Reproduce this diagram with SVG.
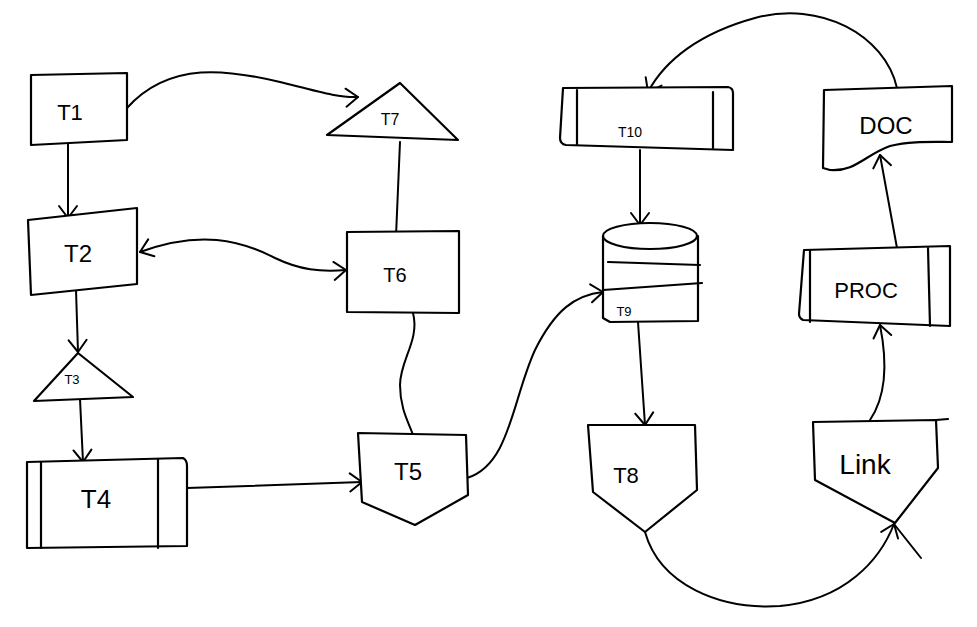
<svg xmlns="http://www.w3.org/2000/svg" width="977" height="627" viewBox="0 0 977 627">
<defs>
<marker id="arr" markerUnits="userSpaceOnUse" markerWidth="30" markerHeight="30" refX="15" refY="15" orient="auto" viewBox="0 0 30 30">
<path d="M3,6 L15,15 L3,24" fill="none" stroke="#000" stroke-width="2" stroke-linecap="round" stroke-linejoin="round"/>
</marker>
<marker id="arrs" markerUnits="userSpaceOnUse" markerWidth="30" markerHeight="30" refX="15" refY="15" orient="auto-start-reverse" viewBox="0 0 30 30">
<path d="M3,6 L15,15 L3,24" fill="none" stroke="#000" stroke-width="2" stroke-linecap="round" stroke-linejoin="round"/>
</marker>
</defs>
<style>
.s{fill:#fff;stroke:#000;stroke-width:2.2;stroke-linejoin:round;stroke-linecap:round}
.l{fill:none;stroke:#000;stroke-width:2.2;stroke-linecap:round;stroke-linejoin:round}
.c{fill:none;stroke:#000;stroke-width:2;stroke-linecap:round}
.t{font-family:"Liberation Sans",Arial,sans-serif;fill:#000;text-anchor:middle}
</style>
<rect width="977" height="627" fill="#fff"/>
<g id="connectors">
<path class="c" d="M127,108 C170,60 230,70 280,82 C320,92 340,98 358,97" marker-end="url(#arr)"/>
<path class="c" d="M68,142 L68,218" marker-end="url(#arr)"/>
<path class="c" d="M140,252 C200,230 240,240 275,258 C300,270 320,272 346,270" marker-start="url(#arrs)" marker-end="url(#arr)"/>
<path class="c" d="M76,290 L78,352" marker-end="url(#arr)"/>
<path class="c" d="M80,399 L83,462" marker-end="url(#arr)"/>
<path class="c" d="M187,488 L362,482" marker-end="url(#arr)"/>
<path class="c" d="M400,142 L396,236"/>
<path class="c" d="M413,313 C420,340 400,360 400,385 C400,410 410,425 413,435"/>
<path class="c" d="M467,478 C510,465 512,400 535,350 C555,310 575,295 603,292" marker-end="url(#arr)"/>
<path class="c" d="M640,150 L640,225" marker-end="url(#arr)"/>
<path class="c" d="M638,322 L645,425" marker-end="url(#arr)"/>
<path class="c" d="M645,532 C660,585 720,610 780,606 C845,600 880,560 894,524" marker-end="url(#arr)"/>
<path class="c" d="M894,524 L921,558"/>
<path class="c" d="M870,420 C885,398 888,365 880,325" marker-end="url(#arr)"/>
<path class="c" d="M897,248 L880,155" marker-end="url(#arr)"/>
<path class="c" d="M897,88 C885,35 820,0 755,18 C700,33 665,60 648,92" marker-end="url(#arr)"/>
</g>
<g id="T1">
<path class="s" d="M31,75 L127,73 L127,140 L31,145 Z"/>
<text class="t" x="70" y="120" font-size="22">T1</text>
</g>
<g id="T2">
<path class="s" d="M28,220 L137,208 L137,284 L31,295 Z"/>
<text class="t" x="78" y="262" font-size="24">T2</text>
</g>
<g id="T3">
<path class="s" d="M78,353 L133,397 L34,401 Z"/>
<text class="t" x="72" y="384" font-size="13">T3</text>
</g>
<g id="T4">
<path class="s" d="M27,462 L183,458 Q187,460 187,466 L187,546 L27,548 Z"/>
<path class="l" d="M41,462 L41,548 M158,459 L158,548"/>
<text class="t" x="96" y="508" font-size="26">T4</text>
</g>
<g id="T7">
<path class="s" d="M400,83 L458,140 L327,135 Z"/>
<text class="t" x="390" y="125" font-size="16">T7</text>
</g>
<g id="T6">
<path class="s" d="M347,232 L459,231 L459,313 L347,312 Z"/>
<text class="t" x="395" y="282" font-size="20">T6</text>
</g>
<g id="T5">
<path class="s" d="M358,433 L466,435 L468,495 L415,525 L362,502 Z"/>
<text class="t" x="408" y="480" font-size="24">T5</text>
</g>
<g id="T10">
<path class="s" d="M563,88 L728,87 Q733,88 733,93 L733,150 L566,145 Q560,144 560,138 Z"/>
<path class="l" d="M577,90 L577,145 M713,92 L713,148"/>
<text class="t" x="630" y="137" font-size="14">T10</text>
</g>
<g id="T9">
<path class="s" d="M603,236 L603,318 L610,322 L698,321 L698,236 Z"/>
<ellipse class="s" cx="650" cy="236" rx="47" ry="13"/>
<path class="l" d="M608,262 L700,265 M603,290 L702,283"/>
<text class="t" x="624" y="316" font-size="13">T9</text>
</g>
<g id="T8">
<path class="s" d="M588,425 L695,425 L697,490 L645,532 L593,492 Z"/>
<text class="t" x="626" y="483" font-size="22">T8</text>
</g>
<g id="DOC">
<path class="s" d="M824,90 L952,86 L952,142 C930,142 910,141 890,146 C865,155 855,172 830,170 L823,168 Z"/>
<text class="t" x="886" y="134" font-size="24">DOC</text>
</g>
<g id="PROC">
<path class="s" d="M804,250 L950,246 L950,326 L803,320 Q799,318 799,314 Z"/>
<path class="l" d="M810,250 L810,322 M928,248 L930,326"/>
<text class="t" x="866" y="298" font-size="22">PROC</text>
</g>
<g id="LINK">
<path class="s" d="M813,422 L936,420 L938,468 L895,523 L815,480 Z"/>
<path class="l" d="M936,420 L948,419"/>
<text class="t" x="865" y="474" font-size="28">Link</text>
</g>
</svg>
